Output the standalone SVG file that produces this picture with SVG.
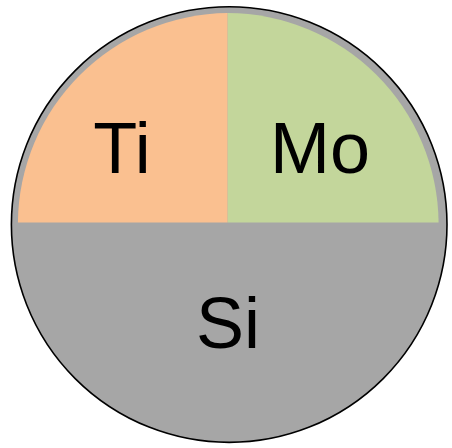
<svg xmlns="http://www.w3.org/2000/svg" width="452" height="448" viewBox="0 0 452 448">
<style>
.lbl{font-family:"Liberation Sans",Arial,sans-serif;font-size:72px;fill:#000;text-anchor:middle}
</style>
<rect width="452" height="448" fill="#fff"/>
<g id="si">
<circle cx="229.2" cy="224.6" r="217.8" fill="#A6A6A6" stroke="#000" stroke-width="1.6"/>
<text class="lbl" x="228" y="348">Si</text>
</g>
<g id="ti">
<path d="M17.9 222.6 A211.5 211.5 0 0 1 227.7 13.1 L227.7 222.6 Z" fill="#FAC090"/>
<text class="lbl" x="122" y="173">Ti</text>
</g>
<g id="mo">
<path d="M227.7 222.6 L227.7 13.1 A211.5 211.5 0 0 1 438.6 222.6 Z" fill="#C3D69B"/>
<text class="lbl" x="320" y="173">Mo</text>
</g>
<g id="connectors"/>
</svg>
